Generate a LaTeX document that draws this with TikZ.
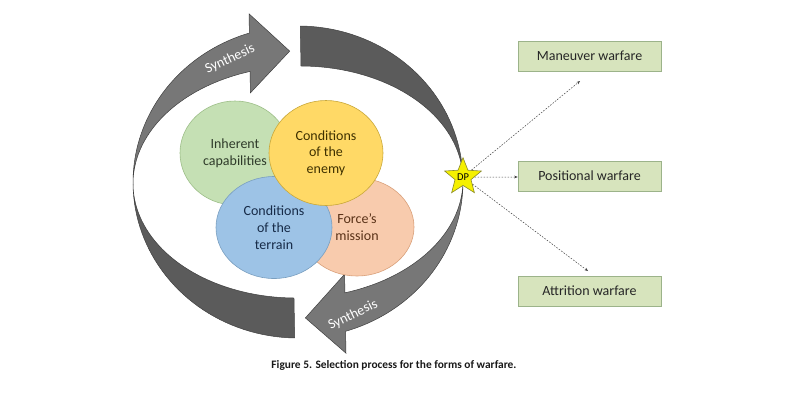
\documentclass[tikz,border=0pt]{standalone}
\usepackage{fontspec}
\setmainfont{Carlito}
\usetikzlibrary{shapes.geometric,arrows.meta}
\definecolor{synthgray}{HTML}{777777}
\definecolor{bandgray}{HTML}{5B5B5B}
\definecolor{edgegray}{HTML}{3F3F3F}
\definecolor{gfill}{HTML}{C5E0B4}\definecolor{gdraw}{HTML}{9DBE88}\definecolor{gtext}{HTML}{2F3B2A}
\definecolor{yfill}{HTML}{FFD966}\definecolor{ydraw}{HTML}{C9A83A}\definecolor{ytext}{HTML}{3F3100}
\definecolor{bfill}{HTML}{9DC3E6}\definecolor{bdraw}{HTML}{7A9FC0}\definecolor{btext}{HTML}{172B48}
\definecolor{ofill}{HTML}{F8CBAD}\definecolor{odraw}{HTML}{D9A07A}\definecolor{otext}{HTML}{5A3218}
\definecolor{boxfill}{HTML}{D7E4BD}\definecolor{boxdraw}{HTML}{9CB38A}
\definecolor{starfill}{HTML}{F5F000}\definecolor{stardraw}{HTML}{8A8A2A}
\tikzset{
  synthpart/.style={fill=synthgray,draw=edgegray,line width=0.5pt},
  bandpart/.style={fill=bandgray,draw=edgegray,line width=0.5pt},
  synthlabel/.style={text=white,font=\fontsize{14}{16}\selectfont,inner sep=0pt},
  factor/.style={ellipse,inner sep=0pt,align=center,line width=0.6pt,font=\fontsize{14}{16.7}\selectfont},
  formbox/.style={rectangle,fill=boxfill,draw=boxdraw,line width=0.6pt,minimum width=143pt,minimum height=30pt,inner sep=0pt,font=\fontsize{14}{16}\selectfont,text=black!85},
  choice/.style={draw=black!75,line width=0.5pt,dash pattern=on 1.6pt off 1.4pt,-{Stealth[length=3.5pt,width=2.8pt]}},
}
\begin{document}
\begin{tikzpicture}[x=1pt,y=-1pt]
\useasboundingbox (0,0) rectangle (799,400);
\begin{scope}[rotate around={1:(298,182)}]
% upper Synthesis arrow
\path[synthpart] plot[domain=180:253.8,samples=40,variable=\t] ({298+165*cos(\t)},{182+156*sin(\t)})
  -- (252,13) -- (292,51) -- (252,92)
  -- plot[domain=253.8:180,samples=40,variable=\t] ({298+165*cos(\t)},{182+116*sin(\t)}) -- cycle;
% right band
\path[bandpart] plot[domain=271.74:360,samples=40,variable=\t] ({298+165*cos(\t)},{182+156*sin(\t)})
  -- plot[domain=360:271.74,samples=40,variable=\t] ({298+165*cos(\t)},{182+116*sin(\t)}) -- cycle;
% lower Synthesis arrow
\path[synthpart] plot[domain=0:74.2,samples=40,variable=\t] ({298+165*cos(\t)},{182+156*sin(\t)})
  -- (343,354) -- (303,318) -- (343,275)
  -- plot[domain=74.2:0,samples=40,variable=\t] ({298+165*cos(\t)},{182+116*sin(\t)}) -- cycle;
% lower-left band
\path[bandpart] plot[domain=180:92.1,samples=40,variable=\t] ({298+165*cos(\t)},{182+156*sin(\t)})
  -- plot[domain=92.1:180,samples=40,variable=\t] ({298+165*cos(\t)},{182+116*sin(\t)}) -- cycle;
\end{scope}
\node[synthlabel,rotate=25] (syn1) at (230,59) {Synthesis};
\node[synthlabel,rotate=26] (syn2) at (353,315) {Synthesis};
% factors
\node[factor,fill=gfill,draw=gdraw,text=gtext,minimum width=110pt,minimum height=104pt] (inh) at (235,153) {Inherent\\capabilities};
\node[factor,fill=ofill,draw=odraw,text=otext,minimum width=114pt,minimum height=98pt] (force) at (357,227) {Force's\\mission};
\node[factor,fill=bfill,draw=bdraw,text=btext,minimum width=116pt,minimum height=102pt] (terr) at (274,227.5) {Conditions\\of the\\terrain};
\node[factor,fill=yfill,draw=ydraw,text=ytext,minimum width=114pt,minimum height=105pt] (enemy) at (326,153) {Conditions\\of the\\enemy};
% decision point
\node[star,star points=5,star point ratio=2.3,fill=starfill,draw=stardraw,line width=0.6pt,minimum size=37pt,inner sep=0pt,font=\fontsize{10.5}{11}\selectfont] (dp) at (463,177) {DP};
% forms of warfare
\node[formbox] (man) at (589.5,56) {Maneuver warfare};
\node[formbox] (pos) at (589.5,176) {Positional warfare};
\node[formbox] (att) at (589.5,291) {Attrition warfare};
\coordinate (e1) at (580,81);
\coordinate (e3) at (588,271);
\draw[choice] (dp) -- (e1);
\draw[choice] (dp) -- (dp -| pos.west);
\draw[choice] (dp) -- (e3);
% caption
\node[font=\bfseries\fontsize{11.4}{13}\selectfont,text=black!90] (cap) at (394,365) {Figure 5. Selection process for the forms of warfare.};
\end{tikzpicture}
\end{document}
